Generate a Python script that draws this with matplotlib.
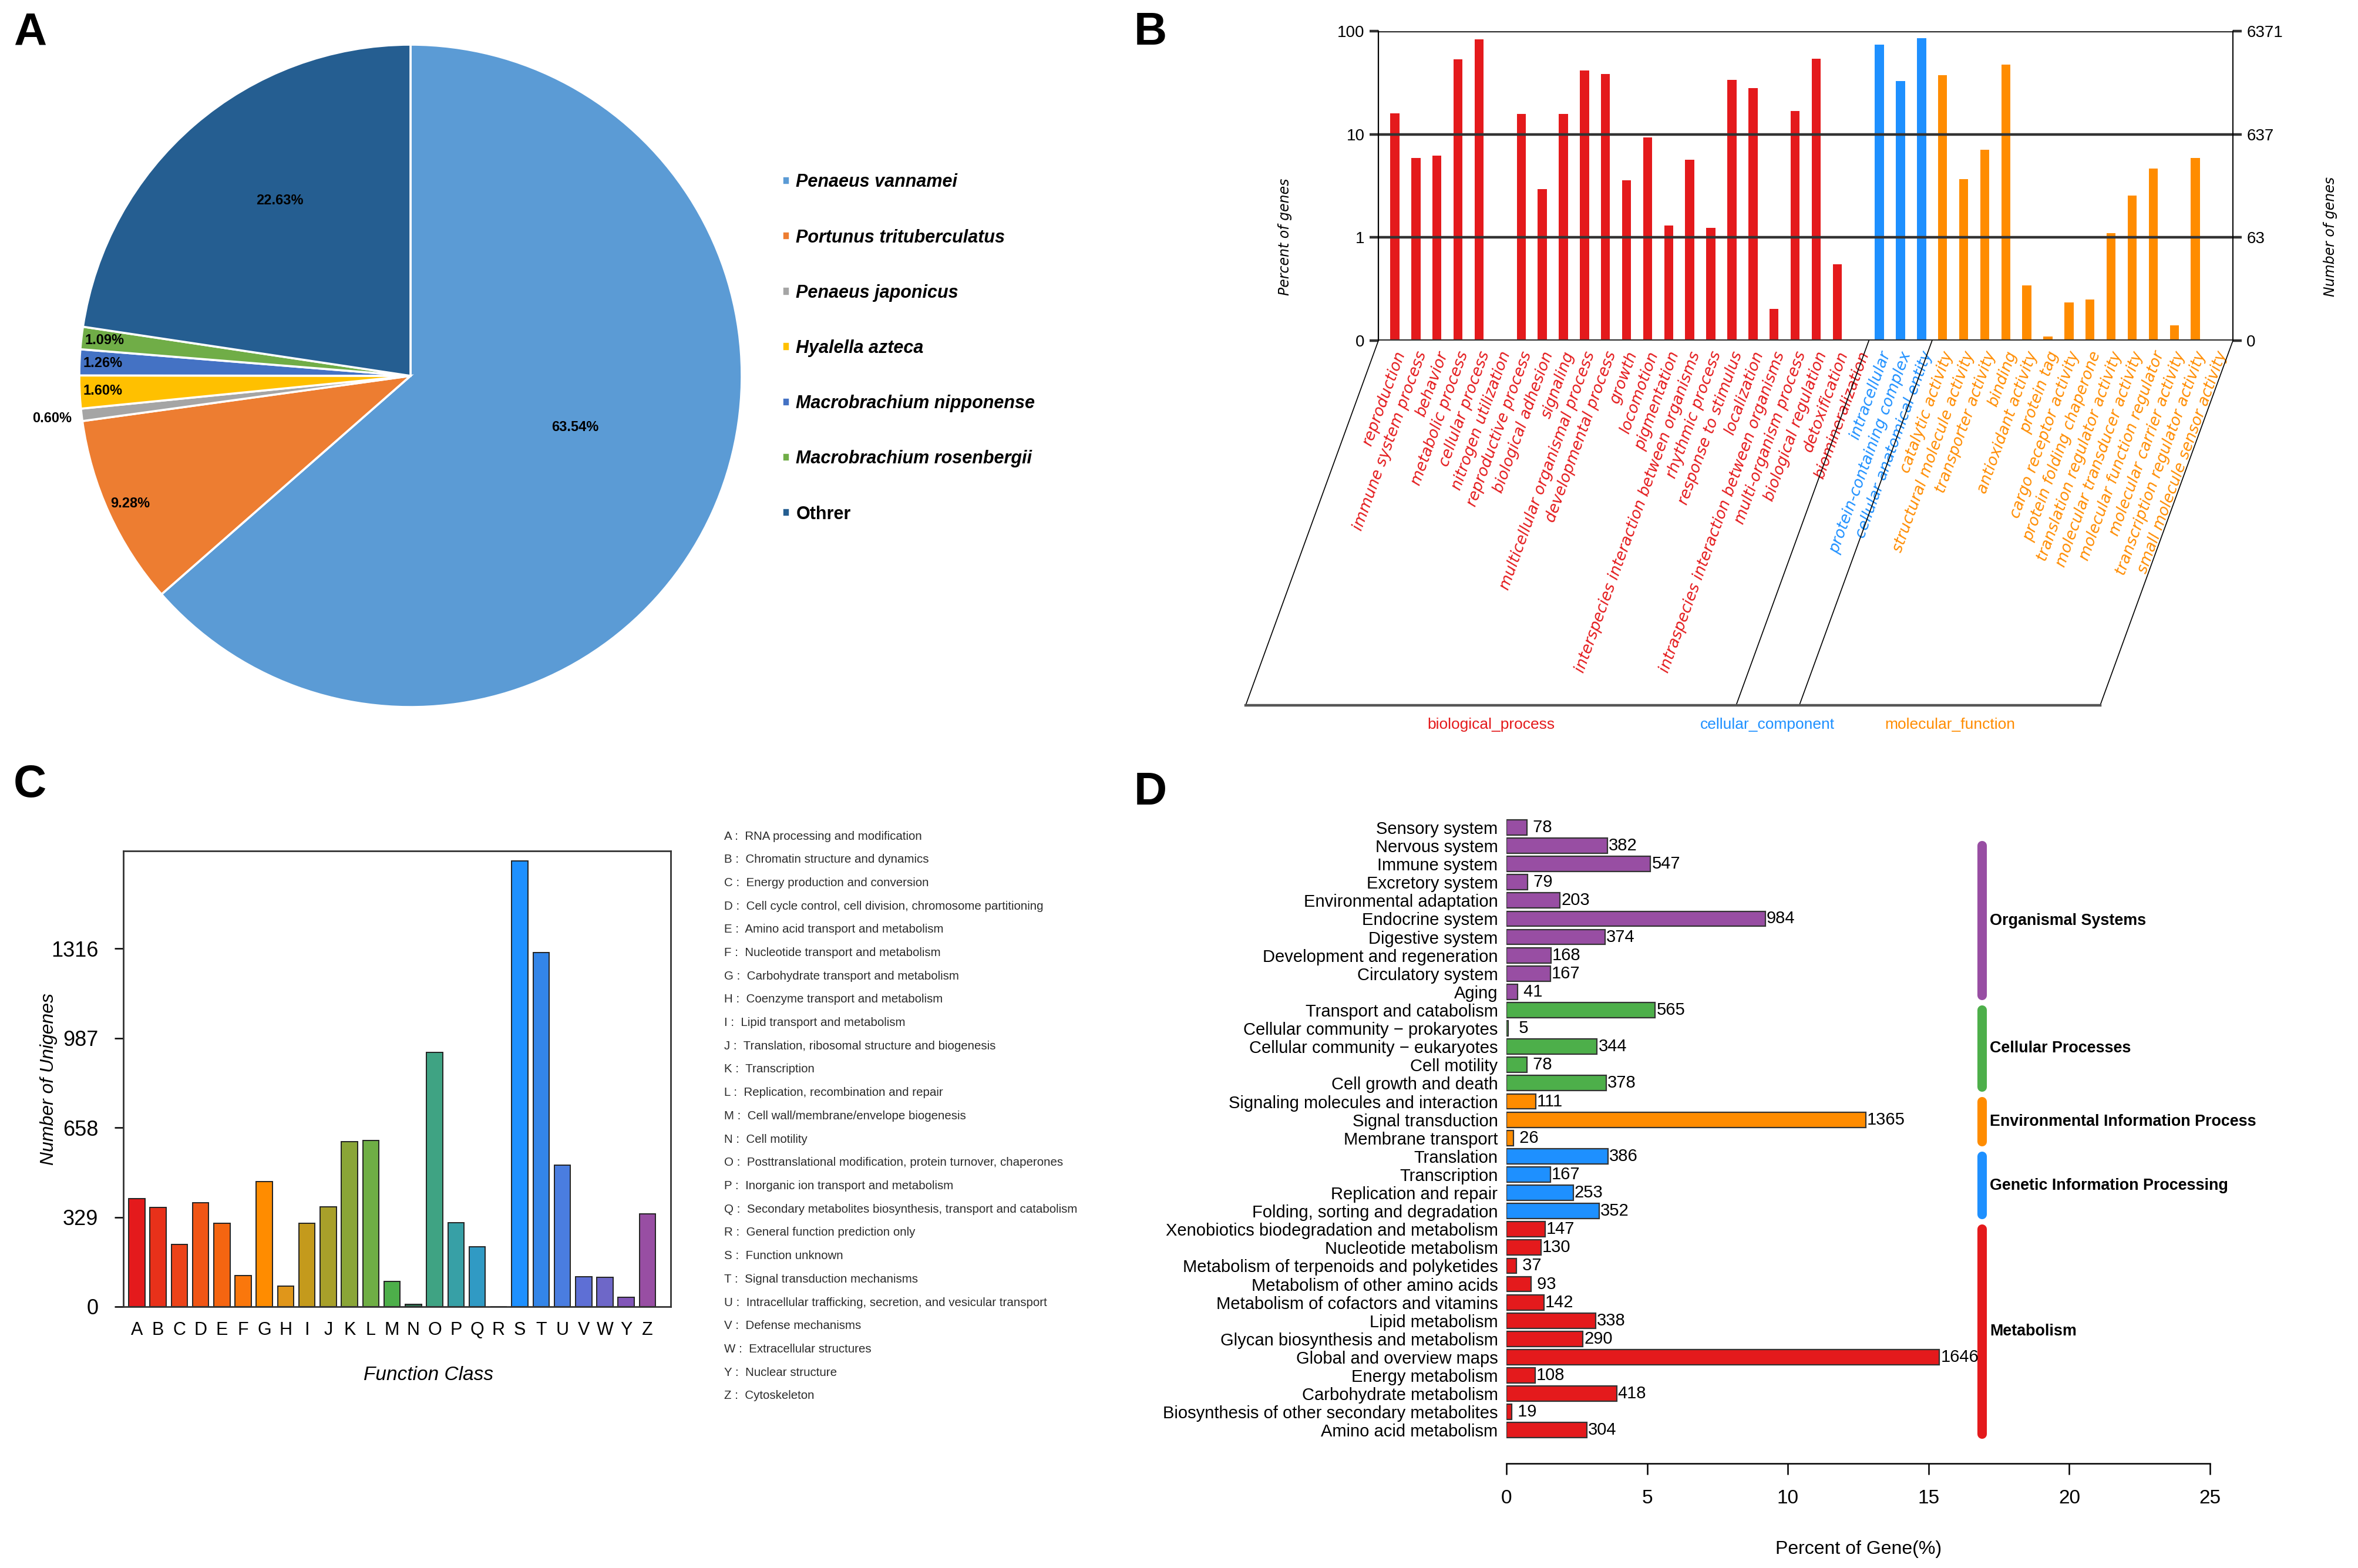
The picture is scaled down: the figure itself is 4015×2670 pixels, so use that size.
import matplotlib
matplotlib.use('Agg')
import matplotlib.pyplot as plt
import numpy as np
from matplotlib.lines import Line2D

plt.rcParams['font.family'] = ['Liberation Sans', 'DejaVu Sans']
NARROW = ['Liberation Sans Narrow', 'Liberation Sans', 'DejaVu Sans']

# ---------------- data ----------------
# A: species distribution (%)
species = ['Penaeus vannamei', 'Portunus trituberculatus', 'Penaeus japonicus',
           'Hyalella azteca', 'Macrobrachium nipponense', 'Macrobrachium rosenbergii', 'Othrer']
species_pct = [63.54, 9.28, 0.60, 1.60, 1.26, 1.09, 22.63]
species_colors = ['#5B9BD5', '#ED7D31', '#A5A5A5', '#FFC000', '#4472C4', '#70AD47', '#255E91']

# B: GO classification (percent of genes)
bp_terms = ['reproduction', 'immune system process', 'behavior', 'metabolic process',
            'cellular process', 'nitrogen utilization', 'reproductive process',
            'biological adhesion', 'signaling', 'multicellular organismal process',
            'developmental process', 'growth', 'locomotion', 'pigmentation',
            'interspecies interaction between organisms', 'rhythmic process',
            'response to stimulus', 'localization', 'intraspecies interaction between organisms',
            'multi-organism process', 'biological regulation', 'detoxification',
            'biomineralization']
bp_pct = [15.9, 5.9, 6.2, 53.5, 83.6, 0, 15.7, 2.96, 15.7, 41.5, 38.6, 3.6, 9.34, 1.31,
          5.66, 1.24, 33.9, 27.9, 0.204, 16.8, 54.1, 0.552, 0]
cc_terms = ['intracellular', 'protein-containing complex', 'cellular anatomical entity']
cc_pct = [73.8, 32.8, 85.5]
mf_terms = ['catalytic activity', 'structural molecule activity', 'transporter activity',
            'binding', 'antioxidant activity', 'protein tag', 'cargo receptor activity',
            'protein folding chaperone', 'translation regulator activity',
            'molecular transducer activity', 'molecular function regulator',
            'molecular carrier activity', 'transcription regulator activity',
            'small molecule sensor activity']
mf_pct = [37.2, 3.66, 7.04, 47.2, 0.344, 0.11, 0.235, 0.251, 1.107, 2.54, 4.66, 0.141, 5.9, 0]
go_groups = ['biological_process', 'cellular_component', 'molecular_function']
go_group_colors = ['#E41A1C', '#1E90FF', '#FF8C00']
go_left_ticks = ['0', '1', '10', '100']
go_right_ticks = ['0', '63', '637', '6371']

# C: COG classification
cog_letters = ['A', 'B', 'C', 'D', 'E', 'F', 'G', 'H', 'I', 'J', 'K', 'L', 'M', 'N', 'O',
               'P', 'Q', 'R', 'S', 'T', 'U', 'V', 'W', 'Y', 'Z']
cog_counts = [397, 365, 229, 382, 306, 114, 459, 76, 306, 368, 606, 611, 92, 9, 935,
              309, 220, 0, 1639, 1302, 520, 111, 108, 35, 340]
cog_colors = ['#E41A1C', '#E8311A', '#EC4319', '#F05515', '#F56511', '#FA770C', '#FF8C00',
              '#E0961A', '#C49A1C', '#A8A02A', '#8AA537', '#6FAE45', '#4DAF4A', '#2D6E4E',
              '#3FA383', '#37A0A6', '#309AC4', '#2D8FE0', '#1E90FF', '#3385E8', '#4A7DE0',
              '#5E6FD5', '#6E67C8', '#8256B8', '#984EA3']
cog_desc = ['RNA processing and modification', 'Chromatin structure and dynamics',
            'Energy production and conversion',
            'Cell cycle control, cell division, chromosome partitioning',
            'Amino acid transport and metabolism', 'Nucleotide transport and metabolism',
            'Carbohydrate transport and metabolism', 'Coenzyme transport and metabolism',
            'Lipid transport and metabolism', 'Translation, ribosomal structure and biogenesis',
            'Transcription', 'Replication, recombination and repair',
            'Cell wall/membrane/envelope biogenesis', 'Cell motility',
            'Posttranslational modification, protein turnover, chaperones',
            'Inorganic ion transport and metabolism',
            'Secondary metabolites biosynthesis, transport and catabolism',
            'General function prediction only', 'Function unknown',
            'Signal transduction mechanisms',
            'Intracellular trafficking, secretion, and vesicular transport',
            'Defense mechanisms', 'Extracellular structures', 'Nuclear structure', 'Cytoskeleton']
cog_ticks = [0, 329, 658, 987, 1316]

# D: KEGG classification
kegg_terms = ['Sensory system', 'Nervous system', 'Immune system', 'Excretory system',
              'Environmental adaptation', 'Endocrine system', 'Digestive system',
              'Development and regeneration', 'Circulatory system', 'Aging',
              'Transport and catabolism', 'Cellular community \u2212 prokaryotes',
              'Cellular community \u2212 eukaryotes', 'Cell motility', 'Cell growth and death',
              'Signaling molecules and interaction', 'Signal transduction', 'Membrane transport',
              'Translation', 'Transcription', 'Replication and repair',
              'Folding, sorting and degradation',
              'Xenobiotics biodegradation and metabolism', 'Nucleotide metabolism',
              'Metabolism of terpenoids and polyketides', 'Metabolism of other amino acids',
              'Metabolism of cofactors and vitamins', 'Lipid metabolism',
              'Glycan biosynthesis and metabolism', 'Global and overview maps',
              'Energy metabolism', 'Carbohydrate metabolism',
              'Biosynthesis of other secondary metabolites', 'Amino acid metabolism']
kegg_counts = [78, 382, 547, 79, 203, 984, 374, 168, 167, 41,
               565, 5, 344, 78, 378,
               111, 1365, 26,
               386, 167, 253, 352,
               147, 130, 37, 93, 142, 338, 290, 1646, 108, 418, 19, 304]
kegg_total = 10700
kegg_groups = ['Organismal Systems', 'Cellular Processes', 'Environmental Information Process',
               'Genetic Information Processing', 'Metabolism']
kegg_group_sizes = [10, 5, 3, 4, 12]
kegg_group_colors = ['#984EA3', '#4DAF4A', '#FF8C00', '#1E90FF', '#E41A1C']

# ---------------- figure ----------------
W, H = 4016, 2670
DPI = 200
fig = plt.figure(figsize=(W / DPI, H / DPI), dpi=DPI)


def px_axes(x0, y0, x1, y1):
    return fig.add_axes([x0 / W, 1 - y1 / H, (x1 - x0) / W, (y1 - y0) / H])


def px_to_fig(px, py):
    # display pixels (origin bottom-left) -> figure fraction
    return px / W, py / H


# panel letters
for letter, (lx, ly) in zip('ABCD', [(51, 56), (1959, 56), (51, 1337), (1959, 1350)]):
    fig.text(lx / W, 1 - ly / H, letter, fontsize=28, fontweight='bold', ha='center', va='center')

# ---------- A: pie ----------
axA = px_axes(135, 76, 1263, 1204)
wedges, _ = axA.pie(species_pct, colors=species_colors, startangle=90, counterclock=False,
                    wedgeprops=dict(edgecolor='white', linewidth=1.3))
axA.set_xlim(-1, 1)
axA.set_ylim(-1, 1)
axA.set_aspect('equal')
label_dist = [0.52, 0.93, 1.09, 0.93, 0.93, 0.93, 0.66]
label_turn = [7, 0, 0, 0, 0, 0, -4]
for w, p, d, t in zip(wedges, species_pct, label_dist, label_turn):
    ang = np.deg2rad((w.theta1 + w.theta2) / 2 + t)
    axA.text(d * np.cos(ang), d * np.sin(ang), f'{p:.2f}%', ha='center', va='center',
             fontsize=8.5, fontweight='bold', family=NARROW)
leg = axA.legend(wedges, species, loc='center left', bbox_to_anchor=(1305 / W, 1 - 593 / H),
                 bbox_transform=fig.transFigure, frameon=False, handlelength=0.4,
                 handleheight=0.4, handletextpad=0.35, labelspacing=2.1,
                 prop=dict(family=NARROW, weight='bold', style='italic', size=11))
leg.get_texts()[-1].set_style('normal')

# ---------- B: GO ----------
go_terms = bp_terms + cc_terms + mf_terms
go_pct = np.array(bp_pct + cc_pct + mf_pct)
go_colors = ([go_group_colors[0]] * len(bp_terms) + [go_group_colors[1]] * len(cc_terms)
             + [go_group_colors[2]] * len(mf_terms))
xb = np.arange(len(go_terms))

axB = px_axes(2347, 53, 3802, 580)
axB.set_yscale('log')
axB.set_ylim(0.1, 100)
axB.set_xlim(-0.78, len(go_terms) - 0.22)
has = go_pct > 0
axB.bar(xb[has], go_pct[has] - 0.1, bottom=0.1, width=0.43,
        color=np.array(go_colors)[has], zorder=2)
grid_vals = [0.1, 1, 10, 100]
for gv in grid_vals:
    axB.axhline(gv, color='#333333', lw=1.6, zorder=3)
axB.minorticks_off()
axB.set_yticks(grid_vals)
axB.set_yticklabels(go_left_ticks, family=NARROW, fontsize=10)
axB.set_xticks([])
axB.tick_params(axis='y', direction='out', length=5.4, width=1.6, color='#333333', pad=3)
for s in ['top', 'bottom']:
    axB.spines[s].set_visible(False)
axB.spines['left'].set_linewidth(0.7)
axB.spines['right'].set_linewidth(0.7)
axB.set_ylabel('Percent of genes', family='DejaVu Sans', style='italic', fontsize=8.5)
axB.yaxis.set_label_coords(-0.101, 0.336)

axB2 = axB.twinx()
axB2.set_yscale('log')
axB2.set_ylim(0.1, 100)
axB2.minorticks_off()
axB2.set_yticks(grid_vals)
axB2.set_yticklabels(go_right_ticks, family=NARROW, fontsize=10)
axB2.tick_params(axis='y', direction='out', length=5.4, width=1.6, color='#333333', pad=3)
for s in ['top', 'bottom']:
    axB2.spines[s].set_visible(False)
axB2.spines['right'].set_linewidth(0.7)
axB2.set_ylabel('Number of genes', family='DejaVu Sans', style='italic', fontsize=8.5,
                rotation=90)
axB2.yaxis.set_label_coords(1.106, 0.336)

for i, (lab, col) in enumerate(zip(go_terms, go_colors)):
    axB.annotate(lab, xy=(i, 0.1), xytext=(4, -7), textcoords='offset points',
                 rotation=70, rotation_mode='anchor', ha='right', va='center',
                 fontsize=9.5, style='italic', family='DejaVu Sans', color=col,
                 annotation_clip=False)

# slanted frame under the GO axis
depth = 621
shift = depth / np.tan(np.deg2rad(70))
n_bp, n_cc = len(bp_terms), len(cc_terms)
edges_x = [-0.78, n_bp - 0.5, n_bp + n_cc - 0.5, len(go_terms) - 0.22]
tops = [axB.transData.transform((ex, 0.1)) for ex in edges_x]
bots = [(tx - shift, ty - depth) for tx, ty in tops]
for (tx, ty), (bx, by) in zip(tops, bots):
    fx, fy = zip(px_to_fig(tx, ty), px_to_fig(bx, by))
    fig.add_artist(Line2D(fx, fy, transform=fig.transFigure, color='black', lw=0.6))
fx, fy = zip(px_to_fig(*bots[0]), px_to_fig(*bots[-1]))
fig.add_artist(Line2D(fx, fy, transform=fig.transFigure, color='#555555', lw=1.6))
for k, (name, col) in enumerate(zip(go_groups, go_group_colors)):
    cx = (bots[k][0] + bots[k + 1][0]) / 2
    cy = bots[k][1] - 33
    fx, fy = px_to_fig(cx, cy)
    fig.text(fx, fy, name, color=col, ha='center', va='center', fontsize=9.5, family=NARROW)

# ---------- C: COG ----------
xc = np.arange(len(cog_letters))
axC = px_axes(210, 1449, 1142, 2225)
axC.bar(xc, cog_counts, width=0.76, color=cog_colors, edgecolor='#222222', linewidth=0.7)
axC.set_xlim(-0.63, len(cog_letters) + 0.09)
axC.set_ylim(0, 1675)
axC.set_yticks(cog_ticks)
axC.set_yticklabels([str(t) for t in cog_ticks], fontsize=13)
axC.set_xticks(xc)
axC.set_xticklabels(cog_letters, fontsize=11)
axC.tick_params(axis='x', length=0, pad=9)
axC.tick_params(axis='y', length=5.4, width=0.9, pad=10)
for s in axC.spines.values():
    s.set_color('#333333')
    s.set_linewidth(1.0)
axC.set_ylabel('Number of Unigenes', style='italic', fontsize=11.5)
axC.yaxis.set_label_coords(-0.12, 0.5)
axC.set_xlabel('Function Class', style='italic', fontsize=12)
axC.xaxis.set_label_coords(0.557, -0.13)

for i, (let, desc) in enumerate(zip(cog_letters, cog_desc)):
    fig.text(1233 / W, 1 - (1424 + i * 39.7) / H, f'{let} :  {desc}', fontsize=7.4,
             color='#2b2b2b', ha='left', va='center')

# ---------- D: KEGG ----------
yd = np.arange(len(kegg_terms))
kegg_pct = np.array(kegg_counts) / kegg_total * 100
kegg_colors = []
for col, n in zip(kegg_group_colors, kegg_group_sizes):
    kegg_colors += [col] * n

axD = px_axes(2565.5, 1380, 3763, 2492)
axD.barh(yd, kegg_pct, height=0.83, color=kegg_colors, edgecolor='#333333', linewidth=0.8)
axD.set_xlim(0, 25)
axD.set_ylim(len(kegg_terms) + 0.82, -0.93)
for s in ['left', 'right', 'top']:
    axD.spines[s].set_visible(False)
axD.spines['bottom'].set_bounds(0, 25)
axD.spines['bottom'].set_linewidth(0.9)
axD.set_xticks([0, 5, 10, 15, 20, 25])
axD.set_xticklabels(['0', '5', '10', '15', '20', '25'], family=NARROW, fontsize=12)
axD.tick_params(axis='x', length=6.8, width=0.9, pad=9)
axD.set_yticks(yd)
axD.set_yticklabels(kegg_terms, family=NARROW, fontsize=10.5)
axD.tick_params(axis='y', length=0, pad=5.4)
axD.set_xlabel('Percent of Gene(%)', family=NARROW, fontsize=11.5)
axD.xaxis.set_label_coords(0.5, -0.118)
for yy, p, c in zip(yd, kegg_pct, kegg_counts):
    axD.text(p + 0.04, yy, str(c).rjust(3), va='center', ha='left', family=NARROW, fontsize=10.5)

start = 0
for k, (name, col, n) in enumerate(zip(kegg_groups, kegg_group_colors, kegg_group_sizes)):
    first, last = start, start + n - 1
    top = first + (1.0 if k == 0 else 0.0)
    bot = last + 0.2
    axD.plot([16.9, 16.9], [top, bot], color=col, lw=5.8,
             solid_capstyle='round', clip_on=False)
    axD.text(17.17, (top + bot) / 2, name, va='center', ha='left', fontweight='bold',
             fontsize=9.7, clip_on=False)
    start += n

fig.savefig('out.png', dpi=DPI)
